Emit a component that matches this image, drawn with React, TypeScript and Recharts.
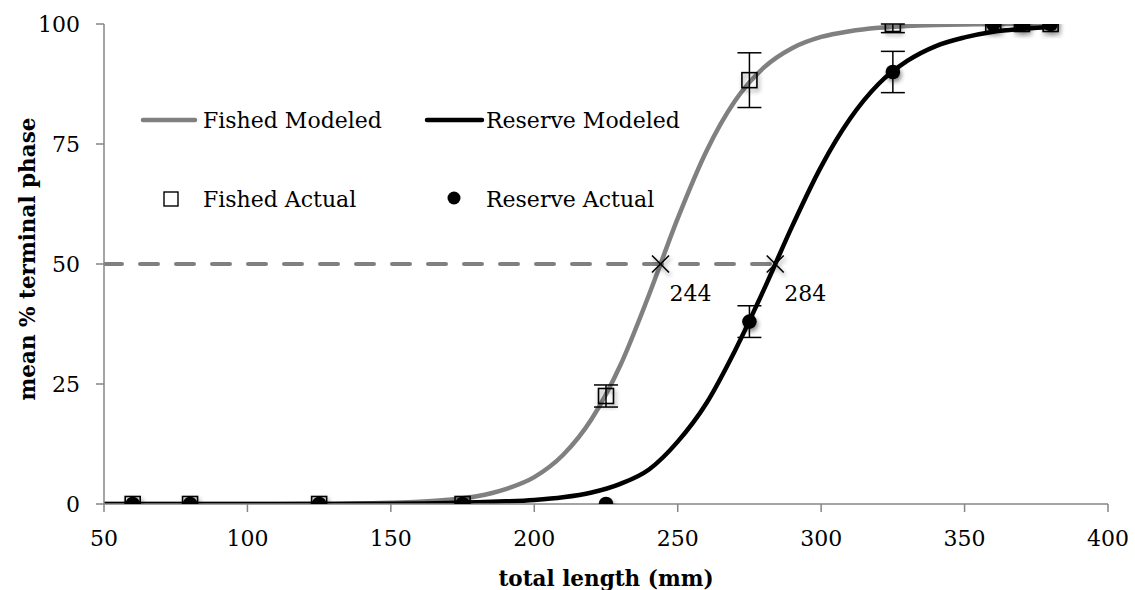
import React from 'react';
import { ComposedChart, Line, Scatter, XAxis, YAxis, ErrorBar } from 'recharts';

// Modeled logistic curves (percent terminal phase by total length)
const modelLengths = [50, 60, 70, 80, 90, 100, 110, 120, 130, 140, 150, 160, 170, 180, 190, 200, 210, 220, 230, 240, 250, 260, 270, 280, 290, 300, 310, 320, 330, 340, 350, 360, 370, 380];
const fishedModeled = [0, 0, 0, 0, 0, 0.01, 0.02, 0.04, 0.07, 0.13, 0.25, 0.46, 0.87, 1.6, 3.1, 5.6, 10.2, 17.7, 28.9, 43.6, 59.5, 73.5, 84, 90.9, 95, 97.3, 98.5, 99.2, 99.6, 99.8, 99.9, 100, 100, 100];
const reserveModeled = [0, 0, 0, 0, 0, 0, 0, 0.01, 0.02, 0.04, 0.07, 0.12, 0.2, 0.35, 0.55, 0.85, 1.4, 2.4, 4.2, 7.2, 13, 21, 32, 44.6, 58, 70.3, 80.2, 87.5, 92.3, 95.4, 97.2, 98.4, 99, 99.4];

// Observed means with standard errors
const actualLengths = [60, 80, 125, 175, 225, 275, 325, 360, 370, 380];
const fishedActual = [0, 0, 0, 0, 22.5, 88.3, 100, 100, 100, 100];
const fishedError: (number | number[] | null)[] = [null, null, null, null, 2.3, 5.7, [1.8, 0], null, null, null];
const reserveActual = [0, 0, 0, 0, 0, 38, 90, 100, 100, 100];
const reserveError: (number | number[] | null)[] = [null, null, null, null, null, 3.3, 4.3, null, null, null];

// Length at 50% terminal phase
const halfLevel = 50;
const halfLengths = [244, 284];

const xTicks = [50, 100, 150, 200, 250, 300, 350, 400];
const yTicks = [0, 25, 50, 75, 100];

const fishedLine = modelLengths.map((x, i) => ({ x, y: fishedModeled[i] }));
const reserveLine = modelLengths.map((x, i) => ({ x, y: reserveModeled[i] }));
const fishedPts = actualLengths.map((x, i) => ({ x, y: fishedActual[i], err: fishedError[i] ?? undefined }));
const reservePts = actualLengths.map((x, i) => ({ x, y: reserveActual[i], err: reserveError[i] ?? undefined }));
const halfPts = halfLengths.map((x) => ({ x, y: halfLevel }));
const halfGuide = [{ x: 50, y: halfLevel }, { x: Math.max(...halfLengths), y: halfLevel }];

const FONT = '"DejaVu Serif", serif';
const GRAY = '#808080';
const AXIS = '#868686';

const SquareMark = (props: any) => {
  const { cx, cy } = props;
  if (cx == null || cy == null) return null;
  return (
    <rect x={cx - 7.5} y={cy - 7.5} width={15} height={15} fill="none" stroke="#000" strokeWidth={1.6} filter="url(#markShadow)" />
  );
};

const DotMark = (props: any) => {
  const { cx, cy } = props;
  if (cx == null || cy == null) return null;
  return <circle cx={cx} cy={cy} r={7.3} fill="#000" filter="url(#markShadow)" />;
};

const CrossMark = (props: any) => {
  const { cx, cy, payload } = props;
  if (cx == null || cy == null) return null;
  const s = 8.5;
  return (
    <g>
      <g filter="url(#markShadow)">
        <line x1={cx - s} y1={cy - s} x2={cx + s} y2={cy + s} stroke="#000" strokeWidth={1.6} />
        <line x1={cx - s} y1={cy + s} x2={cx + s} y2={cy - s} stroke="#000" strokeWidth={1.6} />
      </g>
      <text x={cx + 9} y={cy + 37} fontFamily={FONT} fontSize={22} fill="#000">
        {payload.x}
      </text>
    </g>
  );
};

// Value labels on the y axis, right-aligned a little way off the tick marks
const YTick = (props: any) => {
  const { y, payload } = props;
  return (
    <text x={80} y={y} textAnchor="end" dominantBaseline="central" fontFamily={FONT} fontSize={22} fill="#000">
      {payload.value}
    </text>
  );
};

const YTitle = () => (
  <text x={27} y={259} transform="rotate(-90 27 259)" textAnchor="middle" dominantBaseline="central" fontFamily={FONT} fontWeight="bold" fontSize={21.5} fill="#000">
    mean % terminal phase
  </text>
);

const XTitle = () => (
  <text x={606} y={578} textAnchor="middle" dominantBaseline="central" fontFamily={FONT} fontWeight="bold" fontSize={21.5} fill="#000">
    total length (mm)
  </text>
);

const Legend = () => (
  <svg width={1135} height={590} style={{ position: 'absolute', left: 0, top: 0, pointerEvents: 'none' }}>
    <g fontFamily={FONT} fontSize={22} fill="#000">
      <line x1={143} y1={120} x2={195} y2={120} stroke={GRAY} strokeWidth={4.5} strokeLinecap="round" />
      <text x={203} y={128}>Fished Modeled</text>
      <line x1={427} y1={120} x2={482} y2={120} stroke="#000" strokeWidth={4.5} strokeLinecap="round" />
      <text x={486} y={128}>Reserve Modeled</text>
      <rect x={164} y={192} width={14} height={14} fill="none" stroke="#000" strokeWidth={1.4} />
      <text x={203} y={207}>Fished Actual</text>
      <circle cx={454} cy={198} r={6.5} fill="#000" />
      <text x={486} y={207}>Reserve Actual</text>
    </g>
  </svg>
);

export default function App() {
  return (
    <div style={{ position: 'absolute', left: 0, top: 0, width: 1135, height: 590, background: '#fff', fontFamily: FONT }}>
      <ComposedChart width={1135} height={590} margin={{ top: 24, right: 27, bottom: 46, left: 44 }}>
        <defs>
          <filter id="markShadow" x="-50%" y="-50%" width="200%" height="200%">
            <feDropShadow dx="1.5" dy="3" stdDeviation="2" floodColor="#000" floodOpacity="0.45" />
          </filter>
        </defs>
        <XAxis
          dataKey="x"
          type="number"
          domain={[50, 400]}
          ticks={xTicks}
          allowDataOverflow
          stroke={AXIS}
          strokeWidth={1.5}
          tickSize={8}
          tick={{ fill: '#000', fontSize: 22, fontFamily: FONT }}
          tickMargin={18}
          height={40}
          label={<XTitle />}
        />
        <YAxis
          dataKey="y"
          type="number"
          domain={[0, 100]}
          ticks={yTicks}
          allowDataOverflow
          stroke={AXIS}
          strokeWidth={1.5}
          tickSize={8}
          width={60}
          tick={<YTick />}
          label={<YTitle />}
        />
        <Line data={halfGuide} dataKey="y" type="linear" stroke={GRAY} strokeWidth={4} strokeDasharray="18 18" strokeLinecap="round" dot={false} activeDot={false} isAnimationActive={false} />
        <Line data={fishedLine} dataKey="y" type="monotone" stroke={GRAY} strokeWidth={4.5} dot={false} activeDot={false} isAnimationActive={false} />
        <Line data={reserveLine} dataKey="y" type="monotone" stroke="#000" strokeWidth={4.5} dot={false} activeDot={false} isAnimationActive={false} />
        <Scatter data={halfPts} dataKey="y" shape={CrossMark} isAnimationActive={false} />
        <Scatter data={fishedPts} dataKey="y" shape={SquareMark} isAnimationActive={false}>
          <ErrorBar dataKey="err" direction="y" width={12} stroke="#000" strokeWidth={1.5} />
        </Scatter>
        <Scatter data={reservePts} dataKey="y" shape={DotMark} isAnimationActive={false}>
          <ErrorBar dataKey="err" direction="y" width={12} stroke="#000" strokeWidth={1.5} />
        </Scatter>
      </ComposedChart>
      <Legend />
    </div>
  );
}
